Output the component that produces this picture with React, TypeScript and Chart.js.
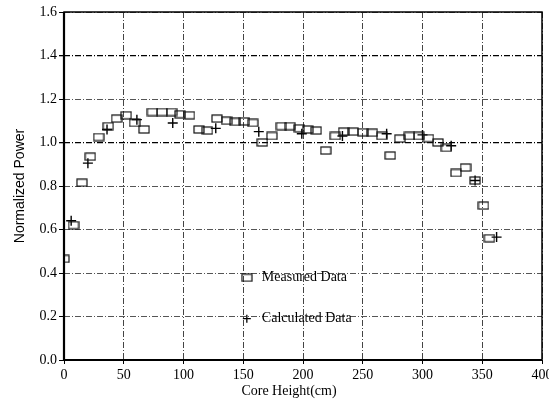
import React, { useEffect, useRef } from "react";
import { Chart, registerables } from "chart.js";

Chart.register(...registerables);

const measuredX = [0, 8, 15, 22, 29, 37, 44, 52, 59, 67, 74, 82, 90, 97, 105, 113, 120, 128, 136, 143, 151, 158, 166, 174, 182, 189, 197, 204, 211, 219, 227, 234, 242, 250, 258, 266, 273, 281, 289, 297, 305, 313, 320, 328, 336, 344, 351, 356];
const measuredY = [0.465, 0.62, 0.815, 0.935, 1.025, 1.075, 1.11, 1.125, 1.09, 1.06, 1.14, 1.14, 1.14, 1.13, 1.125, 1.06, 1.055, 1.11, 1.1, 1.095, 1.097, 1.09, 1.0, 1.03, 1.075, 1.075, 1.065, 1.06, 1.055, 0.963, 1.03, 1.05, 1.05, 1.047, 1.045, 1.03, 0.94, 1.018, 1.03, 1.03, 1.02, 1.0, 0.975, 0.86, 0.885, 0.825, 0.71, 0.56];

const calcX = [6, 20, 36, 61, 91, 127, 163, 199, 233, 270, 300, 324, 344, 362];
const calcY = [0.64, 0.905, 1.06, 1.105, 1.09, 1.065, 1.05, 1.04, 1.03, 1.04, 1.035, 0.985, 0.825, 0.565];

const xTicks = [0, 50, 100, 150, 200, 250, 300, 350, 400];
const yTicks = [0, 0.2, 0.4, 0.6, 0.8, 1.0, 1.2, 1.4, 1.6];

const seriesNames = ["Measured Data", "Calculated Data"];
const xTitle = "Core Height(cm)";
const yTitle = "Normalized Power";

const FONT = "'Liberation Serif', 'DejaVu Serif', serif";
const SANS = "'Liberation Sans Narrow', 'Liberation Sans', Arial, sans-serif";

function makeRectIcon(): HTMLCanvasElement {
  const c = document.createElement("canvas");
  c.width = 12;
  c.height = 9;
  const ctx = c.getContext("2d")!;
  ctx.strokeStyle = "#111";
  ctx.lineWidth = 1.2;
  ctx.strokeRect(1, 1, 10, 7);
  return c;
}

export default function App() {
  const ref = useRef<HTMLCanvasElement | null>(null);

  useEffect(() => {
    if (!ref.current) return;
    const rectIcon = makeRectIcon();

    const framePlugin = {
      id: "frameAndLegend",
      afterDraw(chart: any) {
        const { ctx, chartArea, scales } = chart;
        ctx.save();
        ctx.setLineDash([]);
        ctx.strokeStyle = "#000";
        ctx.lineWidth = 1.5;
        ctx.strokeRect(chartArea.left, chartArea.top, chartArea.right - chartArea.left, chartArea.bottom - chartArea.top);
        ctx.lineWidth = 2.2;
        ctx.beginPath();
        ctx.moveTo(chartArea.left, chartArea.top);
        ctx.lineTo(chartArea.left, chartArea.bottom);
        ctx.lineTo(chartArea.right, chartArea.bottom);
        ctx.stroke();

        // x axis title (slightly left of centre, as in the reference)
        ctx.fillStyle = "#000";
        ctx.font = `14px ${FONT}`;
        ctx.textAlign = "center";
        ctx.textBaseline = "middle";
        ctx.fillText(xTitle, (chartArea.left + chartArea.right) / 2 - 14, chartArea.bottom + 31);

        // legend inside plot
        const lx = scales.x.getPixelForValue(153);
        const ly1 = scales.y.getPixelForValue(0.378);
        const ly2 = scales.y.getPixelForValue(0.19);
        ctx.drawImage(rectIcon, lx - rectIcon.width / 2, ly1 - rectIcon.height / 2);
        ctx.lineWidth = 1.3;
        ctx.beginPath();
        ctx.moveTo(lx - 4, ly2);
        ctx.lineTo(lx + 4, ly2);
        ctx.moveTo(lx, ly2 - 4);
        ctx.lineTo(lx, ly2 + 4);
        ctx.stroke();
        ctx.font = `14px ${FONT}`;
        ctx.textAlign = "left";
        ctx.fillText(seriesNames[0], lx + 15, ly1);
        ctx.fillText(seriesNames[1], lx + 15, ly2);
        ctx.restore();
      },
    };

    const chart = new Chart(ref.current, {
      type: "scatter",
      data: {
        datasets: [
          {
            label: seriesNames[0],
            data: measuredX.map((x, i) => ({ x, y: measuredY[i] })),
            pointStyle: rectIcon as any,
            pointRadius: 5,
            borderColor: "#111",
            backgroundColor: "transparent",
          },
          {
            label: seriesNames[1],
            data: calcX.map((x, i) => ({ x, y: calcY[i] })),
            pointStyle: "cross",
            pointRadius: 5,
            borderWidth: 1.4,
            borderColor: "#000",
            backgroundColor: "#000",
          },
        ],
      },
      options: {
        animation: false,
        responsive: false,
        layout: { padding: { top: 12, right: 7, left: 0, bottom: 0 } },
        plugins: {
          legend: { display: false },
          tooltip: { enabled: false },
        },
        scales: {
          x: {
            type: "linear",
            min: 0,
            max: 400,
            afterBuildTicks: (s: any) => {
              s.ticks = xTicks.map((v) => ({ value: v }));
            },
            afterFit: (s: any) => {
              s.height = 41;
              s.paddingRight = 0;
              s.paddingLeft = 0;
            },
            ticks: {
              color: "#000",
              font: { family: FONT, size: 14 },
              padding: 3,
              maxRotation: 0,
              autoSkip: false,
              callback: (v: any) => String(v),
            },
            grid: {
              color: "#444",
              lineWidth: 1,
              tickLength: 4,
              tickColor: "#000",
              tickBorderDash: [],
            },
            border: { display: false, dash: [6, 2, 1, 2] },
            title: { display: false },
          },
          y: {
            type: "linear",
            min: 0,
            max: 1.6,
            afterBuildTicks: (s: any) => {
              s.ticks = yTicks.map((v) => ({ value: v }));
            },
            afterFit: (s: any) => {
              s.width = 64;
            },
            ticks: {
              color: "#000",
              font: { family: FONT, size: 14 },
              padding: 2,
              autoSkip: false,
              callback: (v: any) => Number(v).toFixed(1),
            },
            grid: {
              color: (c: any) => (c.tick && (Math.abs(c.tick.value - 1.0) < 1e-6 || Math.abs(c.tick.value - 1.4) < 1e-6) ? "#000" : "#555"),
              lineWidth: (c: any) => (c.tick && (Math.abs(c.tick.value - 1.0) < 1e-6 || Math.abs(c.tick.value - 1.4) < 1e-6) ? 1.3 : 1),
              tickLength: 5,
              tickColor: "#000",
              tickBorderDash: [],
            },
            border: { display: false, dash: [6, 2, 1, 2] },
            title: {
              display: true,
              text: yTitle,
              color: "#000",
              font: { family: SANS, size: 14 },
              padding: { top: 12, bottom: 4 },
            },
          },
        },
      },
      plugins: [framePlugin],
    });

    return () => chart.destroy();
  }, []);

  return (
    <div style={{ position: "fixed", left: 0, top: 0, width: 549, height: 401, background: "#fff" }}>
      <canvas ref={ref} width={549} height={401} style={{ width: 549, height: 401, display: "block" }} />
    </div>
  );
}
